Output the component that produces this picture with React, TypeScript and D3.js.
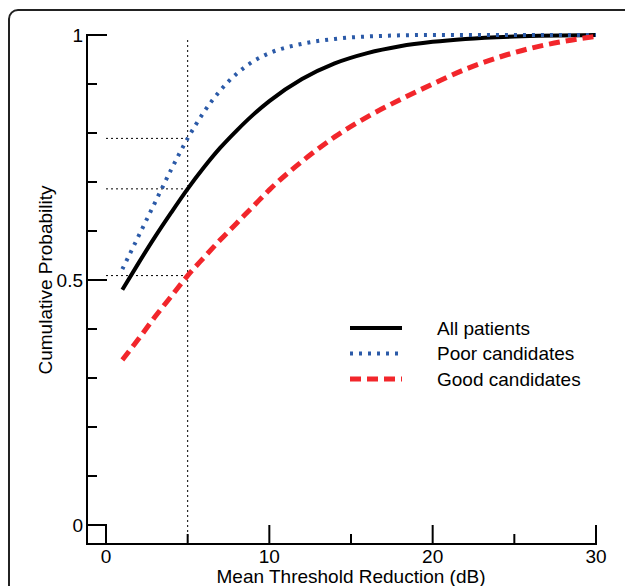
import * as React from "react";
import * as d3 from "d3";

// x: mean threshold reduction (dB)
const allX = [1, 2, 3, 4, 5, 6, 7, 8, 9, 10, 12, 14, 16, 18, 20, 22, 25, 30];
const allY = [0.48, 0.535, 0.588, 0.638, 0.686, 0.73, 0.77, 0.805, 0.837, 0.865, 0.91, 0.942, 0.963, 0.977, 0.986, 0.992, 0.997, 1];

const poorX = [1, 2, 3, 4, 5, 6, 7, 8, 9, 10, 12, 14, 16, 20, 25, 30];
const poorY = [0.522, 0.59, 0.658, 0.726, 0.789, 0.843, 0.887, 0.921, 0.946, 0.963, 0.982, 0.992, 0.997, 1, 1, 1];

const goodX = [1, 2, 3, 4, 5, 6, 7, 8, 9, 10, 12, 14, 16, 18, 20, 22, 24, 26, 28, 30];
const goodY = [0.337, 0.38, 0.425, 0.467, 0.509, 0.546, 0.582, 0.616, 0.65, 0.684, 0.742, 0.792, 0.833, 0.868, 0.9, 0.93, 0.954, 0.973, 0.987, 0.997];

const refX = 5;
const refY = [0.789, 0.686, 0.509];

const xTicks = [0, 5, 10, 15, 20, 25, 30];
const xLabels = [0, 10, 20, 30];
const yTicks = [0, 0.1, 0.2, 0.3, 0.4, 0.5, 0.6, 0.7, 0.8, 0.9, 1];
const yLabels = ["0", "0.5", "1"];

const series = [
  { name: "All patients", xs: allX, ys: allY, color: "#000", width: 4, dash: "none" },
  { name: "Poor candidates", xs: poorX, ys: poorY, color: "#2b5aa8", width: 4, dash: "3,6" },
  { name: "Good candidates", xs: goodX, ys: goodY, color: "#f2262b", width: 5, dash: "11,6" },
];

const font = "'Liberation Sans', Arial, Helvetica, sans-serif";
const fs = 19;

export default function App() {
  const x = d3.scaleLinear().domain([0, 30]).range([106, 596]);
  const y = d3.scaleLinear().domain([0, 1]).range([525, 35]);
  const axisX = 87;
  const axisY = 544;

  const line = d3
    .line<[number, number]>()
    .x((d) => x(d[0]))
    .y((d) => y(d[1]))
    .curve(d3.curveMonotoneX);

  const isMajorY = (v: number) => Math.abs(v) < 1e-9 || Math.abs(v - 0.5) < 1e-9 || Math.abs(v - 1) < 1e-9;

  return (
    <svg width={625} height={586} style={{ position: "absolute", left: 0, top: 0 }} fontFamily={font}>
      <rect x={9} y={10} width={800} height={800} rx={9} fill="none" stroke="#222" strokeWidth={2} />

      {/* reference dotted lines */}
      <line x1={x(refX)} x2={x(refX)} y1={40} y2={axisY} stroke="#000" strokeWidth={1} strokeDasharray="2,3" />
      {refY.map((v, i) => (
        <line key={i} x1={x(0)} x2={x(refX)} y1={y(v)} y2={y(v)} stroke="#000" strokeWidth={1} strokeDasharray="2,3" />
      ))}

      {/* y axis */}
      <line x1={axisX} x2={axisX} y1={y(1) - 1} y2={axisY + 1} stroke="#000" strokeWidth={2} />
      {yTicks.map((v) => (
        <line key={v} x1={axisX} x2={axisX + (isMajorY(v) ? 20 : 10)} y1={y(v)} y2={y(v)} stroke="#000" strokeWidth={2} />
      ))}
      {yLabels.map((l) => (
        <text key={l} x={axisX - 4} y={y(+l)} textAnchor="end" dominantBaseline="central" fontSize={fs}>
          {l}
        </text>
      ))}
      <text
        transform={`translate(45,${y(0.5)}) rotate(-90)`}
        textAnchor="middle"
        dominantBaseline="central"
        fontSize={fs}
      >
        Cumulative Probability
      </text>

      {/* x axis */}
      <line x1={axisX - 1} x2={x(30) + 1} y1={axisY} y2={axisY} stroke="#000" strokeWidth={2} />
      {xTicks.map((v) => (
        <line key={v} x1={x(v)} x2={x(v)} y1={axisY} y2={v % 10 === 0 ? y(0) : axisY - 10} stroke="#000" strokeWidth={2} />
      ))}
      {xLabels.map((v) => (
        <text key={v} x={x(v)} y={556} textAnchor="middle" dominantBaseline="central" fontSize={fs}>
          {v}
        </text>
      ))}
      <text x={x(15)} y={576} textAnchor="middle" dominantBaseline="central" fontSize={fs}>
        Mean Threshold Reduction (dB)
      </text>

      {/* curves */}
      {series.map((s) => (
        <path
          key={s.name}
          d={line(s.xs.map((v, i) => [v, s.ys[i]] as [number, number])) || ""}
          fill="none"
          stroke={s.color}
          strokeWidth={s.width}
          strokeDasharray={s.dash}
        />
      ))}

      {/* legend */}
      {series.map((s, i) => (
        <g key={s.name} transform={`translate(350,${328 + i * 25.5})`}>
          <line x1={0} x2={52} y1={0} y2={0} stroke={s.color} strokeWidth={s.width} strokeDasharray={s.dash} />
          <text x={87} y={0} dominantBaseline="central" fontSize={fs}>
            {s.name}
          </text>
        </g>
      ))}
    </svg>
  );
}
